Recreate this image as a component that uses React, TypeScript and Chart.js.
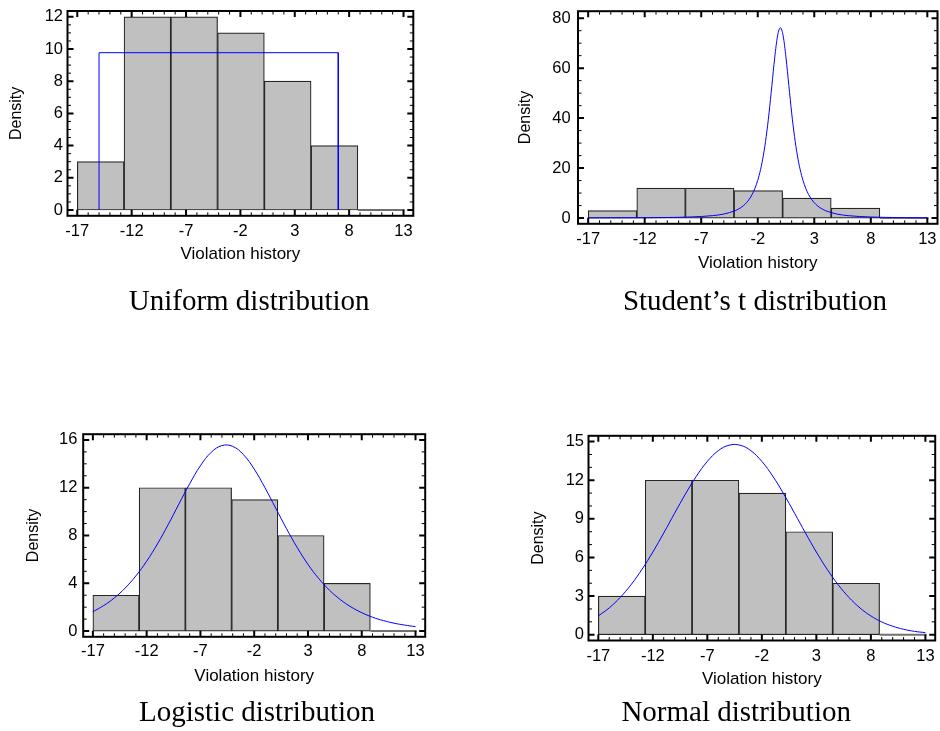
import React, { useEffect, useRef } from 'react';
import { Chart, registerables } from 'chart.js';

Chart.register(...registerables);

// ---------- data ----------
const binEdges = [-17, -12.7, -8.4, -4.1, 0.2, 4.5, 8.8, 13.1];
const binCounts = [3, 12, 12, 11, 8, 4, 0];
const xTickValues = [-17, -12, -7, -2, 3, 8, 13];
const xRange = [-17.9, 13.9];

const uniformX = [-15, -15, 7, 7];
const uniformY = [0, 9.77, 9.77, 0];

const studentX = [
  -17, -16, -15, -14, -13, -12, -11, -10, -9, -8, -7, -6, -5, -4,
  -3.75, -3.5, -3.25, -3, -2.75, -2.5, -2.25, -2, -1.75, -1.5, -1.25, -1, -0.75, -0.5, -0.25,
  0, 0.25, 0.5, 0.75, 1, 1.25, 1.5, 1.75, 2, 2.25, 2.5, 2.75, 3, 3.25, 3.5, 3.75, 4,
  5, 6, 7, 8, 9, 10, 11, 12, 13,
];
const studentY = [
  0.045, 0.054, 0.066, 0.081, 0.1, 0.128, 0.165, 0.22, 0.3, 0.42, 0.62, 0.96, 1.6, 2.94,
  3.48, 4.16, 5.02, 6.13, 7.55, 9.4, 11.86, 15.1, 19.43, 25.18, 32.67, 42.09, 53.05, 64.17, 72.86,
  76.2, 72.86, 64.17, 53.05, 42.09, 32.67, 25.18, 19.43, 15.1, 11.86, 9.4, 7.55, 6.13, 5.02, 4.16, 3.48, 2.94,
  1.6, 0.96, 0.62, 0.42, 0.3, 0.22, 0.165, 0.128, 0.1,
];

const curveX = [
  -17, -16, -15, -14, -13, -12, -11, -10, -9, -8, -7, -6, -5, -4, -3, -2,
  -1, 0, 1, 2, 3, 4, 5, 6, 7, 8, 9, 10, 11, 12, 13,
];
const logisticY = [
  1.62, 2.13, 2.78, 3.6, 4.62, 5.85, 7.29, 8.91, 10.64, 12.33, 13.84, 14.96, 15.53, 15.46, 14.77, 13.56,
  12.0, 10.29, 8.58, 6.99, 5.58, 4.4, 3.42, 2.64, 2.02, 1.54, 1.16, 0.88, 0.66, 0.5, 0.37,
];
const normalY = [
  1.46, 2.08, 2.89, 3.88, 5.07, 6.42, 7.9, 9.44, 10.94, 12.32, 13.46, 14.29, 14.72, 14.72, 14.29, 13.46,
  12.32, 10.94, 9.44, 7.9, 6.42, 5.07, 3.88, 2.89, 2.08, 1.46, 0.99, 0.66, 0.42, 0.26, 0.16,
];

const uniformYTicks = [0, 2, 4, 6, 8, 10, 12];
const studentYTicks = [0, 20, 40, 60, 80];
const logisticYTicks = [0, 4, 8, 12, 16];
const normalYTicks = [0, 3, 6, 9, 12, 15];

const titles = ['Uniform distribution', 'Student\u2019s t distribution', 'Logistic distribution', 'Normal distribution'];
const xAxisTitle = 'Violation history';
const yAxisTitle = 'Density';

// ---------- layout ----------
const panels = [
  {
    title: titles[0], cx: uniformX, cy: uniformY, mode: 'straight',
    yTicks: uniformYTicks, yMinor: 0.5, yRange: [-0.36, 12.36],
    canvas: { x: 0, y: 0, w: 470, h: 290 }, frame: { l: 67.5, r: 413.3, t: 11, b: 215.8 },
    yLabelPad: 4.5, xLabelPad: 5.9, yTitlePad: 6.9, xTitlePad: 25.8, tc: 249.2, tb: 310.7,
  },
  {
    title: titles[1], cx: studentX, cy: studentY, mode: 'monotone',
    yTicks: studentYTicks, yMinor: 5, yRange: [-2.3, 82.8],
    canvas: { x: 470, y: 0, w: 470, h: 290 }, frame: { l: 578, r: 937.5, t: 11.2, b: 223.8 },
    yLabelPad: 7.3, xLabelPad: 5.8, yTitlePad: 45.6, xTitlePad: 16.0, tc: 755, tb: 310.7,
  },
  {
    title: titles[2], cx: curveX, cy: logisticY, mode: 'spline',
    yTicks: logisticYTicks, yMinor: 1, yRange: [-0.48, 16.48],
    canvas: { x: 0, y: 420, w: 470, h: 311 }, frame: { l: 83.2, r: 425.2, t: 434.2, b: 636.8 },
    yLabelPad: 5.8, xLabelPad: 4.8, yTitlePad: 23.9, xTitlePad: 44.6, tc: 257, tb: 721.7,
  },
  {
    title: titles[3], cx: curveX, cy: normalY, mode: 'spline',
    yTicks: normalYTicks, yMinor: 1, yRange: [-0.45, 15.45],
    canvas: { x: 470, y: 420, w: 470, h: 311 }, frame: { l: 588.5, r: 935.2, t: 435.8, b: 640.5 },
    yLabelPad: 4.5, xLabelPad: 5.9, yTitlePad: 58.9, xTitlePad: 41.3, tc: 736.2, tb: 721.7,
  },
];

const SANS = "'Liberation Sans', Arial, sans-serif";
const SERIF = "'Liberation Serif', 'Times New Roman', serif";

function makeFramePlugin(yMinorStep: number, yMajors: number[]) {
  return {
    id: 'frameTicks',
    afterDraw(chart: any) {
      const { ctx, chartArea: a, scales } = chart;
      const xs = scales.x;
      const ys = scales.y;
      ctx.save();
      ctx.strokeStyle = '#000';
      const isMajor = (v: number, arr: number[]) => arr.some((m) => Math.abs(m - v) < 1e-6);
      const xTick = (v: number, len: number, w: number) => {
        const p = xs.getPixelForValue(v);
        ctx.lineWidth = w;
        ctx.beginPath();
        ctx.moveTo(p, a.bottom);
        ctx.lineTo(p, a.bottom - len);
        ctx.moveTo(p, a.top);
        ctx.lineTo(p, a.top + len);
        ctx.stroke();
      };
      const yTick = (v: number, len: number, w: number) => {
        const p = ys.getPixelForValue(v);
        ctx.lineWidth = w;
        ctx.beginPath();
        ctx.moveTo(a.left, p);
        ctx.lineTo(a.left + len, p);
        ctx.moveTo(a.right, p);
        ctx.lineTo(a.right - len, p);
        ctx.stroke();
      };
      for (let v = Math.ceil(xs.min); v <= xs.max; v += 1) {
        if (!isMajor(v, xTickValues)) xTick(v, 3.5, 1);
      }
      xTickValues.forEach((v) => xTick(v, 6, 2));
      const start = Math.ceil(ys.min / yMinorStep);
      for (let k = start; k * yMinorStep <= ys.max; k++) {
        const v = Math.round(k * yMinorStep * 1000) / 1000;
        if (!isMajor(v, yMajors)) yTick(v, 3.5, 1);
      }
      yMajors.forEach((v) => yTick(v, 6, 2));
      ctx.lineWidth = 2;
      ctx.strokeRect(a.left, a.top, a.right - a.left, a.bottom - a.top);
      ctx.restore();
    },
  };
}

function Panel({ p }: { p: any }) {
  const ref = useRef<HTMLCanvasElement | null>(null);
  useEffect(() => {
    const c = p.canvas;
    const f = p.frame;
    const yW = f.l - c.x;
    const xH = c.y + c.h - f.b;
    const tickFont = { family: SANS, size: 16.5 };
    const xTitleFont = { family: SANS, size: 17 };
    const yTitleFont = { family: SANS, size: 16 };
    const histData = binCounts.map((n, i) => ({ x: (binEdges[i] + binEdges[i + 1]) / 2, y: n }));
    const lastEdge = binEdges.length - 1;
    const curveStyle =
      p.mode === 'monotone'
        ? { cubicInterpolationMode: 'monotone', tension: 0 }
        : p.mode === 'spline'
        ? { cubicInterpolationMode: 'default', tension: 0.4 }
        : { cubicInterpolationMode: 'default', tension: 0 };
    const chart = new Chart(ref.current as HTMLCanvasElement, {
      type: 'bar',
      data: {
        datasets: [
          {
            type: 'bar',
            data: histData as any,
            backgroundColor: '#c0c0c0',
            borderColor: '#262626',
            borderWidth: 1.2,
            borderSkipped: false,
            barPercentage: 1,
            categoryPercentage: 1,
            order: 3,
          } as any,
          {
            type: 'line',
            data: [
              { x: binEdges[lastEdge - 1], y: 0 },
              { x: binEdges[lastEdge], y: 0 },
            ] as any,
            borderColor: '#707070',
            borderWidth: 2,
            pointRadius: 0,
            order: 2,
          } as any,
          {
            type: 'line',
            data: p.cx.map((x: number, i: number) => ({ x, y: p.cy[i] })),
            borderColor: '#0000ff',
            borderWidth: 1,
            pointRadius: 0,
            ...curveStyle,
            order: 1,
          } as any,
        ],
      },
      options: {
        responsive: false,
        animation: false,
        events: [],
        layout: { padding: { left: 0, bottom: 0, top: f.t - c.y, right: c.x + c.w - f.r } },
        plugins: { legend: { display: false }, tooltip: { enabled: false } },
        scales: {
          x: {
            type: 'linear',
            min: xRange[0],
            max: xRange[1],
            offset: false,
            grid: { display: false, drawTicks: false },
            border: { display: false },
            ticks: {
              padding: p.xLabelPad,
              font: tickFont,
              color: '#000',
              autoSkip: false,
              maxRotation: 0,
              callback: (v: any) => String(v),
            },
            afterBuildTicks: (s: any) => {
              s.ticks = xTickValues.map((v) => ({ value: v }));
            },
            afterFit: (s: any) => {
              s.height = xH;
              s.paddingLeft = 0;
              s.paddingRight = 0;
            },
            title: {
              display: true,
              text: xAxisTitle,
              font: xTitleFont,
              color: '#000',
              padding: { top: 0, bottom: p.xTitlePad },
            },
          },
          y: {
            type: 'linear',
            min: p.yRange[0],
            max: p.yRange[1],
            grid: { display: false, drawTicks: false },
            border: { display: false },
            ticks: {
              padding: p.yLabelPad,
              font: tickFont,
              color: '#000',
              autoSkip: false,
              callback: (v: any) => String(v),
            },
            afterBuildTicks: (s: any) => {
              s.ticks = p.yTicks.map((v: number) => ({ value: v }));
            },
            afterFit: (s: any) => {
              s.width = yW;
              s.paddingTop = 0;
              s.paddingBottom = 0;
            },
            title: {
              display: true,
              text: yAxisTitle,
              font: yTitleFont,
              color: '#000',
              padding: { top: p.yTitlePad, bottom: 0 },
            },
          },
        },
      } as any,
      plugins: [makeFramePlugin(p.yMinor, p.yTicks)],
    });
    return () => chart.destroy();
  }, []);
  const c = p.canvas;
  return (
    <canvas
      ref={ref}
      width={c.w}
      height={c.h}
      style={{ position: 'absolute', left: c.x, top: c.y, width: c.w, height: c.h }}
    />
  );
}

export default function App() {
  return (
    <div style={{ position: 'absolute', left: 0, top: 0, width: 940, height: 731, background: '#fff', overflow: 'hidden' }}>
      {panels.map((p, i) => (
        <Panel key={i} p={p} />
      ))}
      {panels.map((p, i) => (
        <div
          key={'t' + i}
          style={{
            position: 'absolute',
            left: p.tc - 200,
            width: 400,
            top: p.tb - 24.3,
            fontFamily: SERIF,
            fontSize: 29,
            lineHeight: '29px',
            textAlign: 'center',
            whiteSpace: 'nowrap',
            color: '#000',
          }}
        >
          {p.title}
        </div>
      ))}
    </div>
  );
}
